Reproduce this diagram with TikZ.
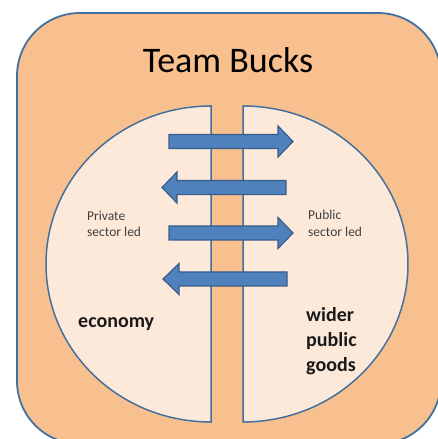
\documentclass[tikz,border=0pt]{standalone}
\usepackage{fontspec}
\setmainfont{Carlito}
\definecolor{outerfill}{HTML}{F9C08F}
\definecolor{innerfill}{HTML}{FDE9DA}
\definecolor{edgeblue}{HTML}{41719C}
\definecolor{arrowfill}{HTML}{4F81BD}
\definecolor{arrowedge}{HTML}{385D8A}
\definecolor{smalltext}{HTML}{404040}
\tikzset{
  outerbox/.style={fill=outerfill, draw=edgeblue, line width=1.8pt, rounded corners=63pt},
  halfbox/.style={fill=innerfill, draw=edgeblue, line width=1.5pt},
  flowarrow/.style={fill=arrowfill, draw=arrowedge, line width=1.2pt, line join=miter},
  titletext/.style={font=\fontsize{36}{40}\selectfont, text=black, inner sep=0pt},
  smalllabel/.style={font=\fontsize{13.5}{16}\selectfont, text=smalltext, inner sep=0pt, anchor=base west},
  biglabel/.style={font=\bfseries\fontsize{20}{24}\selectfont, text=black!90, inner sep=0pt, anchor=base west}
}
% right-pointing arrow: #1 tail x, #2 head base x, #3 tip x, #4 centre y
\newcommand\myRArrow[4]{%
  \draw[flowarrow] (#1,#4+7) -- (#2,#4+7) -- (#2,#4+15.5) -- (#3,#4) -- (#2,#4-15.5) -- (#2,#4-7) -- (#1,#4-7) -- cycle;}
% left-pointing arrow: #1 tail x (right), #2 head base x, #3 tip x, #4 centre y
\newcommand\myLArrow[4]{%
  \draw[flowarrow] (#1,#4+7) -- (#2,#4+7) -- (#2,#4+15.5) -- (#3,#4) -- (#2,#4-15.5) -- (#2,#4-7) -- (#1,#4-7) -- cycle;}
\begin{document}
\begin{tikzpicture}[x=1pt,y=1pt]
\useasboundingbox (0,0) rectangle (438,439);
\clip (0,0) rectangle (438,439);
\fill[white] (0,0) rectangle (438,439);
% outer rounded box
\draw[outerbox] (17,-5) rectangle (441,426);
% two halves
\draw[halfbox] (211,333) arc[start angle=90, end angle=270, x radius=165, y radius=158] -- cycle;
\draw[halfbox] (243,333) arc[start angle=90, end angle=-90, x radius=165, y radius=158] -- cycle;
% arrows
\myRArrow{169}{278}{293}{297.5}
\myLArrow{286}{177}{162}{251.5}
\myRArrow{169}{278}{293}{206}
\myLArrow{287}{179}{163}{160}
% texts
\node[titletext, anchor=base] (title) at (228,366) {Team Bucks};
\node[smalllabel] (priv1) at (87,218) {Private};
\node[smalllabel] (priv2) at (87,202) {sector led};
\node[smalllabel] (pub1) at (308,219) {Public};
\node[smalllabel] (pub2) at (308,202) {sector led};
\node[biglabel] (econ) at (78,111) {economy};
\node[biglabel] (wider) at (306,117) {wider};
\node[biglabel] (public) at (306,92) {public};
\node[biglabel] (goods) at (306,67) {goods};
\end{tikzpicture}
\end{document}
